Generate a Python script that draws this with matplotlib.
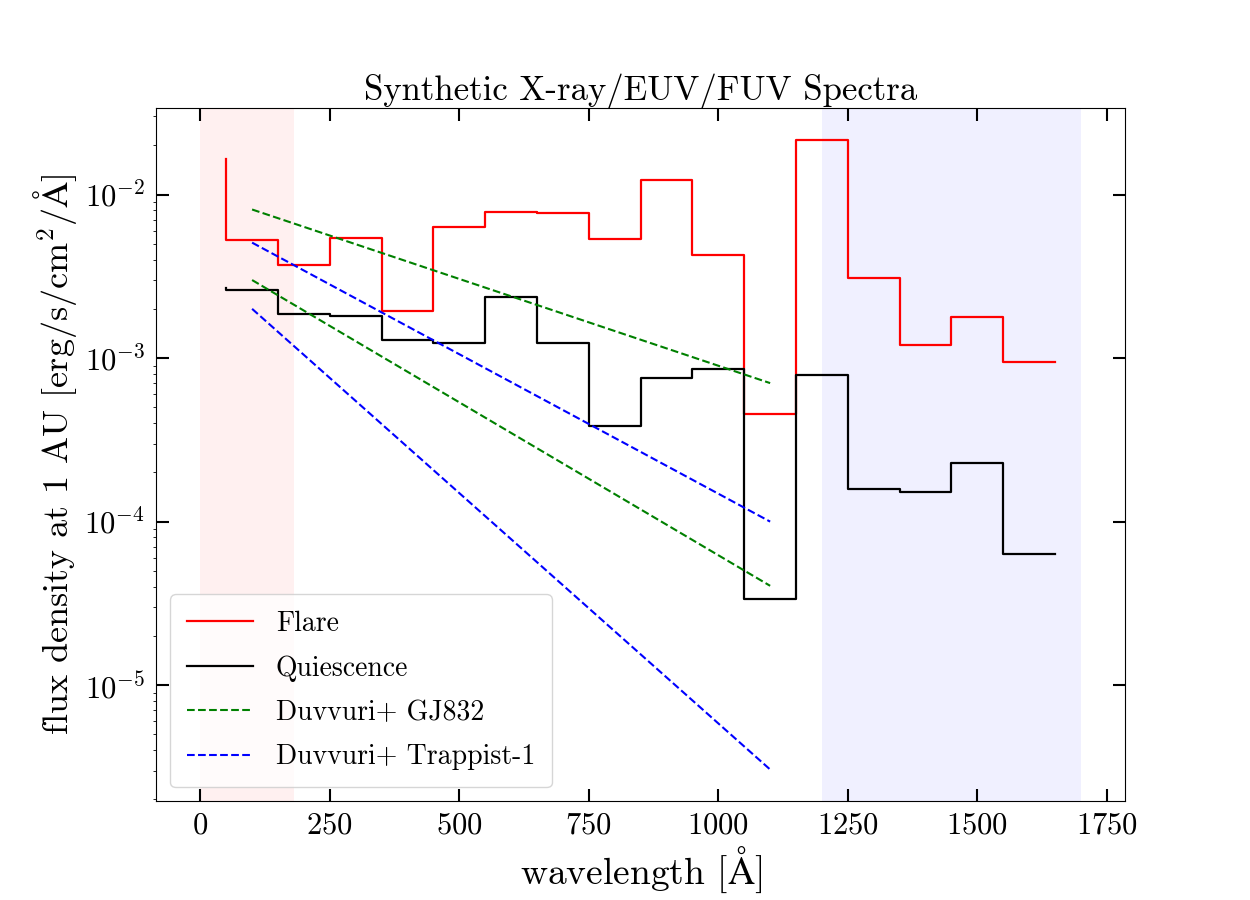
import matplotlib
matplotlib.use("Agg")
import matplotlib.pyplot as plt
import numpy as np

plt.rcParams['font.family'] = ['cmr10', 'DejaVu Serif']
plt.rcParams['mathtext.fontset'] = 'cm'
plt.rcParams['axes.formatter.use_mathtext'] = True
plt.rcParams['axes.unicode_minus'] = True

# step edges (Angstrom)
wave = [50, 150, 250, 350, 450, 550, 650, 750, 850, 950, 1050, 1150, 1250, 1350, 1450, 1550, 1650]
flare = [0.0164, 0.0053, 0.00372, 0.00544, 0.00194, 0.00637, 0.00787, 0.00776, 0.00537,
         0.0122, 0.00429, 0.000453, 0.0217, 0.0031, 0.0012, 0.00179, 0.000944]
quiescence = [0.00268, 0.00261, 0.00186, 0.00181, 0.00129, 0.00124, 0.00237, 0.00124, 0.000383,
              0.000753, 0.000857, 3.37e-5, 0.000787, 0.000159, 0.000151, 0.000227, 6.37e-5]

duv_wave = [100, 1100]
gj832_hi = [0.0081, 0.000703]
gj832_lo = [0.003, 4.05e-5]
trap_hi = [0.00508, 1.0e-4]
trap_lo = [0.002, 3.05e-6]

xray_band = [0, 180]
fuv_band = [1200, 1700]

fig, ax = plt.subplots(figsize=(12.5, 9), dpi=100)

ax.axvspan(xray_band[0], xray_band[1], color='red', alpha=0.06, lw=0)
ax.axvspan(fuv_band[0], fuv_band[1], color='blue', alpha=0.06, lw=0)

ax.plot(wave, flare, drawstyle='steps-pre', color='red', lw=1.6, label='Flare')
ax.plot(wave, quiescence, drawstyle='steps-pre', color='black', lw=1.6, label='Quiescence')
ax.plot(duv_wave, gj832_hi, '--', color='green', lw=1.5, label='Duvvuri+ GJ832')
ax.plot(duv_wave, gj832_lo, '--', color='green', lw=1.5)
ax.plot(duv_wave, trap_hi, '--', color='blue', lw=1.5, label='Duvvuri+ Trappist-1')
ax.plot(duv_wave, trap_lo, '--', color='blue', lw=1.5)

ax.set_yscale('log')
ax.set_xticks([0, 250, 500, 750, 1000, 1250, 1500, 1750])

ax.tick_params(which='major', direction='in', length=9, width=1.5, top=True, right=True,
               labelsize=22, pad=8)
ax.tick_params(axis='y', which='minor', direction='out', length=2.5, width=0.6, left=True, right=False)
ax.tick_params(axis='x', which='minor', bottom=False, top=False)

ax.set_title('Synthetic X-ray/EUV/FUV Spectra', fontsize=25)
ax.set_xlabel(r'wavelength [$\mathrm{\AA}$]', fontsize=27)
ax.set_ylabel(r'flux density at 1 AU [erg/s/cm$^2$/$\mathrm{\AA}$]', fontsize=26)

ax.legend(loc='lower left', fontsize=20, framealpha=0.8, handlelength=2.4,
          labelspacing=0.65, borderpad=0.6)

fig.savefig('out.png', dpi=100)
